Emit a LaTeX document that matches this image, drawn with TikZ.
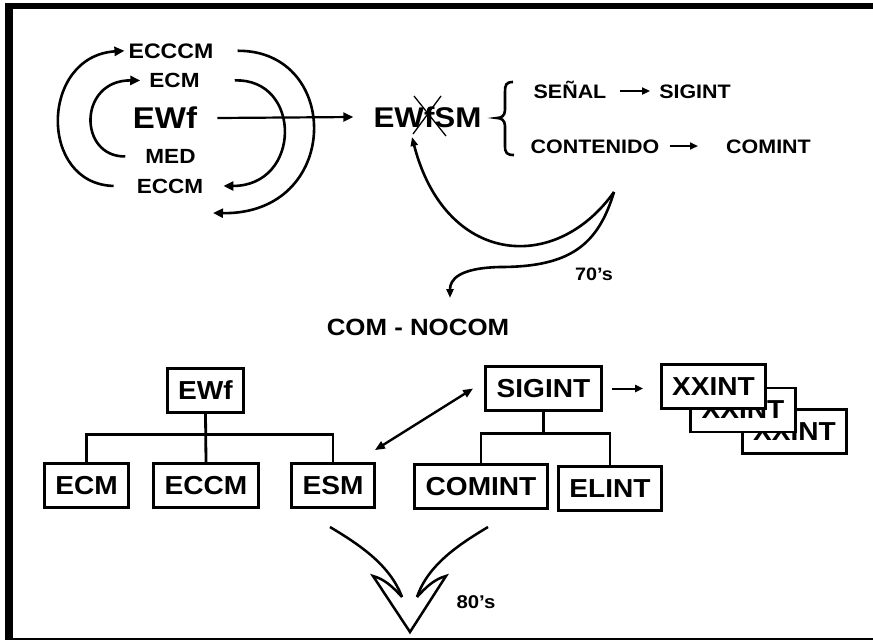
\documentclass[tikz,border=0pt]{standalone}
\usepackage{fontspec}
\setmainfont{Liberation Sans}[FakeStretch=1.1]
\newfontfamily\boxfont{Liberation Sans}[FakeStretch=1.08]
\usetikzlibrary{arrows.meta,calc}
\newcommand{\fsz}[1]{\fontsize{#1}{#1}\selectfont}
\begin{document}
\begin{tikzpicture}[x=1pt,y=-1pt,
  lbl/.style={inner sep=0pt,anchor=base,font=\bfseries\fsz{#1}},
  box/.style={draw,line width=2.8pt,fill=white,inner sep=0pt,minimum height=44pt,minimum width=#1,font=\boxfont\bfseries\fsz{26}},
  conn/.style={line width=2.8pt},
  arc/.style={line width=2.6pt,-{Triangle[length=10pt,width=9pt]}},
  tarr/.style={line width=2pt,-{Triangle[length=8pt,width=7pt]}},
  darr/.style={line width=2.4pt,{Triangle[length=10pt,width=8pt]}-{Triangle[length=10pt,width=8pt]}},
  vline/.style={line width=2.5pt,line join=miter}
]
\useasboundingbox (0,0) rectangle (873,641);
% frame
\fill (5,3) rectangle (873,8.5);
\fill (5,3) rectangle (12.5,640);
\draw[line width=1.8pt] (12,639) -- (873,639);

% top-left cluster
\node[lbl=21] (ecccm) at (171,58) {ECCCM};
\node[lbl=20.5] (ecmT) at (174.5,87.5) {ECM};
\node[lbl=30] (ewfT) at (165,128) {EWf};
\node[lbl=20.5] (med) at (170.5,163.5) {MED};
\node[lbl=20.5] (eccmT) at (170,193) {ECCM};
\coordinate (oe) at (213,213);

\draw[arc] ([xshift=-23pt]eccmT.west) .. controls (38,184) and (40,56) .. ([xshift=-4pt]ecccm.west);
\draw[arc] ([xshift=-20pt]med.west) .. controls (78,157) and (78,80) .. ([xshift=-9pt]ecmT.west);
\draw[arc] ([xshift=35pt]ecmT.east) .. controls (302,78) and (302,186) .. ([xshift=20pt]eccmT.east);
\draw[arc] ([xshift=24pt]ecccm.east) .. controls (342,50) and (342,215) .. (oe);

% EWfSM
\node[lbl=28.5] (ewfsm) at (427.5,127) {EWfSM};
\draw[arc,line width=2.2pt] ([shift={(20,-10)}]ewfT.base east) -- ([shift={(-20,-10)}]ewfsm.base west);
\draw[line width=1.3pt] (414,96) -- (446,136) (441,96) -- (413,134);

% brace
\draw[line width=2.6pt] (513,82) .. controls (506,82) and (505,85) .. (505,92) -- (505,110)
  .. controls (505,116) and (501,118) .. (497,118)
  .. controls (501,118) and (505,120) .. (505,126) -- (505,146)
  .. controls (505,153) and (507,155) .. (514,155);

\node[lbl=19.5] (senal) at (570,98) {SEÑAL};
\node[lbl=19.5] (sig1) at (695,98) {SIGINT};
\node[lbl=19.5] (cont) at (595,153) {CONTENIDO};
\node[lbl=19.5] (com1) at (768.5,153) {COMINT};
\draw[tarr] ([shift={(13,-7)}]senal.base east) -- ([shift={(-9,-7)}]sig1.base west);
\draw[tarr] ([shift={(10,-7)}]cont.base east) -- ([shift={(-28,-7)}]com1.base west);

% 70's curves
\coordinate (v) at (614,192);
\draw[line width=2.6pt,-{Triangle[length=9pt,width=7pt]}] (v) .. controls (555,275) and (445,265) .. (412,137);
\draw[line width=2.6pt,-{Triangle[length=9pt,width=7pt]}] (v) .. controls (598,245) and (570,267) .. (500,267) .. controls (458,268) and (450,280) .. (450,298);
\node[lbl=18] (s70) at (594,280) {70’s};

\node[lbl=23.5] (comno) at (418,335) {COM - NOCOM};

% bottom tree
\node[box=76pt] (ewfB) at (205.5,390.5) {EWf};
\node[box=84pt] (ecmB) at (86.5,485.5) {ECM};
\node[box=105pt] (eccmB) at (206,485.5) {ECCM};
\node[box=83pt] (esmB) at (333,485.5) {ESM};
\draw[conn] (ewfB.south) -- (eccmB.north);
\draw[conn] (ecmB.north) -- ++(0,-28) -| (esmB.north);

\node[box=116pt] (sigB) at (543.5,388.5) {SIGINT};
\node[box=133pt] (cominB) at (481,486.5) {COMINT};
\node[box=103pt] (elintB) at (610,488.5) {ELINT};
\draw[conn] (sigB.south) -- ++(0,21);
\draw[conn] (cominB.north) -- ++(0,-30) -| (elintB.north);

\node[box=104pt] (x3) at (794.5,431.5) {XXINT};
\node[box=105pt] (x2) at (743,410) {XXINT};
\node[box=104pt] (x1) at (713.5,386.5) {XXINT};
\draw[tarr] ([xshift=9pt]sigB.east) -- ([xshift=-17pt]sigB.east -| x1.west);

\draw[darr] ([shift={(-1,-12)}]esmB.north east) -- ([xshift=-11pt]sigB.west);

% 80's double arrow
\draw[vline] (330,527) .. controls (360,545) and (390,565) .. (402,597);
\draw[vline] (488,527) .. controls (458,545) and (428,565) .. (417,597);
\draw[vline] (402,597) .. controls (392,586) and (384,579) .. (373,576) -- (410,632) -- (446,576)
  .. controls (435,579) and (427,586) .. (417,597);
\node[lbl=18.5] (s80) at (476,608) {80’s};
\end{tikzpicture}
\end{document}
